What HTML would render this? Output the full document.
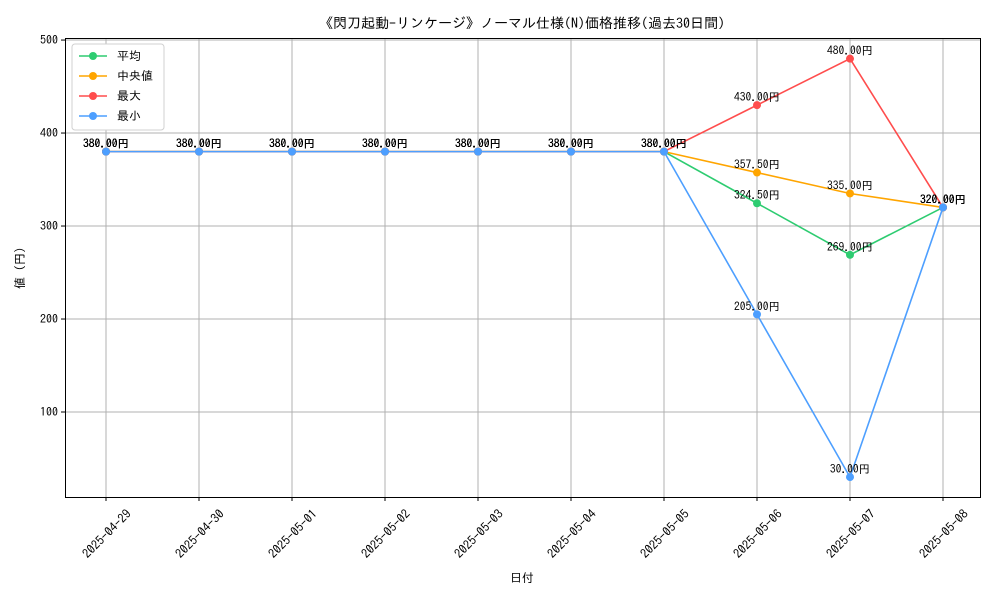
<!DOCTYPE html>
<html><head><meta charset="utf-8">
<style>
body{margin:0;background:#fff;}
svg text{font-family:"IPAGothic","Noto Sans CJK JP",sans-serif;}
</style></head>
<body>
<svg id="chart" width="1000" height="600" xmlns="http://www.w3.org/2000/svg">
<rect width="1000" height="600" fill="#fff"/>
<text x="522" y="28" font-size="14" text-anchor="middle">《閃刀起動-リンケージ》ノーマル仕様(N)価格推移(過去30日間)</text>
<g id="grid"></g>
<g id="axes"></g>
<g id="series"></g>
<g id="labels"></g>
<rect x="65.5" y="38.5" width="915" height="459" fill="none" stroke="#000" stroke-width="1"/>
<text x="522" y="582" font-size="12" text-anchor="middle">日付</text>
<text x="24" y="268" font-size="12" text-anchor="middle" transform="rotate(-90 24 268)">値 (円)</text>
<g id="legend"></g>
</svg>
<script>
const dates=["2025-04-29","2025-04-30","2025-05-01","2025-05-02","2025-05-03","2025-05-04","2025-05-05","2025-05-06","2025-05-07","2025-05-08"];
const meanVals=[380,380,380,380,380,380,380,324.5,269,320];
const medianVals=[380,380,380,380,380,380,380,357.5,335,320];
const maxVals=[380,380,380,380,380,380,380,430,480,320];
const minVals=[380,380,380,380,380,380,380,205,30,320];
const yTicks=[100,200,300,400,500];
const seriesNames=["平均","中央値","最大","最小"];
const colors=["#2ecc71","#ffa500","#ff4d4d","#4d9fff"];
const NS="http://www.w3.org/2000/svg";
const L=65,R=980,T=38,B=497,yMin=8.6,yMax=502.2;
const x=i=>106+i*(943-106)/(dates.length-1);
const y=v=>B-(v-yMin)/(yMax-yMin)*(B-T);
function mk(tag,attrs,parent){const e=document.createElementNS(NS,tag);for(const k in attrs)e.setAttribute(k,attrs[k]);document.getElementById(parent).appendChild(e);return e;}
dates.forEach((d,i)=>{
 const g=mk("line",{x1:x(i),x2:x(i),y1:T,y2:B,stroke:"#b0b0b0","stroke-width":1},"grid");
 
 
 mk("line",{x1:x(i),x2:x(i),y1:B,y2:B+4,stroke:"#000"},"axes");
 const cx=x(i)+1,cy=B+41;
 const t=mk("text",{x:cx,y:cy,"font-size":12.5,"text-anchor":"middle",transform:`rotate(-45 ${cx} ${cy-4})`},"axes");
 
 
 t.textContent=d;
});
yTicks.forEach(v=>{
 const g=mk("line",{x1:L,x2:R,y1:y(v),y2:y(v),stroke:"#b0b0b0","stroke-width":1},"grid");
 
 
 mk("line",{x1:L-4,x2:L,y1:y(v),y2:y(v),stroke:"#000"},"axes");
 const t=mk("text",{x:L-7,y:y(v)+4,"font-size":12,"text-anchor":"end"},"axes");
 
 
 t.textContent=v;
});
const all=[meanVals,medianVals,maxVals,minVals];
const keys=["mean","median","max","min"];
all.forEach((vals,s)=>{
 const p=mk("polyline",{points:vals.map((v,i)=>x(i)+","+y(v)).join(" "),fill:"none",stroke:colors[s],"stroke-width":1.6},"series");
 
 
 vals.forEach((v,i)=>{
  const c=mk("circle",{cx:x(i),cy:y(v),r:4,fill:colors[s]},"series");
  
  
  const t=mk("text",{x:x(i),y:y(v)-4,"font-size":11.5,"text-anchor":"middle"},"labels");
  
  
  t.textContent=v.toFixed(2)+"円";
 });
});
const lb=mk("rect",{x:72,y:44,width:92,height:86,fill:"#fff",stroke:"#d0d0d0",rx:3},"legend");


seriesNames.forEach((n,s)=>{
 const yy=56+s*20;
 const l=mk("line",{x1:79,x2:107,y1:yy,y2:yy,stroke:colors[s],"stroke-width":1.5},"legend");
 
 
 mk("circle",{cx:93,cy:yy,r:4,fill:colors[s]},"legend");
 const t=mk("text",{x:117,y:yy+4,"font-size":12},"legend");
 
 
 t.textContent=n;
});
</script>
</body></html>
